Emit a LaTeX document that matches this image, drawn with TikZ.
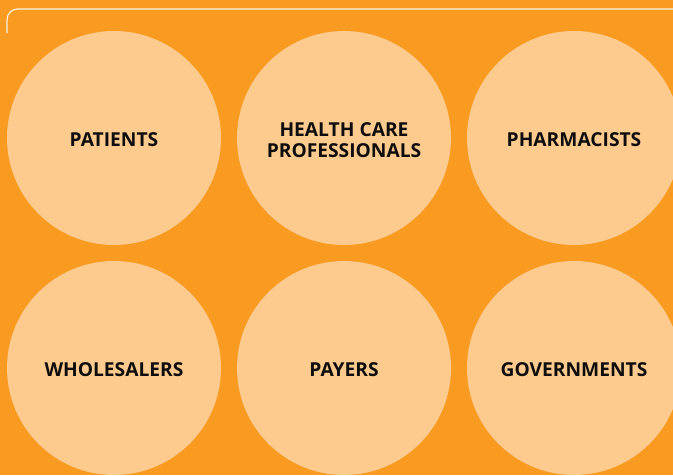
\documentclass[tikz,border=0pt]{standalone}
\usepackage{fontspec}
\setmainfont{Open Sans}
\usetikzlibrary{shapes,positioning}

\definecolor{bgorange}{HTML}{F99A21}
\definecolor{peach}{HTML}{FECB8F}
\definecolor{framecol}{HTML}{FFF3DF}
\definecolor{txt}{HTML}{0D0D0D}

\tikzset{
    stake/.style = {circle, fill=peach, minimum size = 214*0.03cm, inner sep=0pt},
    stakelabel/.style = {yshift=-1.5pt, align=center, text=txt,
        font=\bfseries\fontsize{16.4}{18}\selectfont}
}

\begin{document}
\begin{tikzpicture}[x=0.03cm,y=-0.03cm]

        \useasboundingbox (0,0) rectangle (673,475);
        \clip (0,0) rectangle (673,475);
        \fill [bgorange] (0,0) rectangle (673,475);

        % frame line at the top
        \draw [framecol, line width=1pt, rounded corners=9] (7,33) -- (7,9) -- (680,9);

        % top row
        \node [stake] (patients) at (114,138) {};
        \node [stakelabel] (patientsl) at (patients.center) {PATIENTS};
        \node [stake] (hcp) at (344,138) {};
        \node [stakelabel] (hcpl) at (hcp.center) {HEALTH CARE\\PROFESSIONALS};
        \node [stake] (pharmacists) at (574,138) {};
        \node [stakelabel] (pharmacistsl) at (pharmacists.center) {PHARMACISTS};

        % bottom row
        \node [stake] (wholesalers) at (114,368) {};
        \node [stakelabel] (wholesalersl) at (wholesalers.center) {WHOLESALERS};
        \node [stake] (payers) at (344,368) {};
        \node [stakelabel] (payersl) at (payers.center) {PAYERS};
        \node [stake] (governments) at (574,368) {};
        \node [stakelabel] (governmentsl) at (governments.center) {GOVERNMENTS};

    \end{tikzpicture}
\end{document}
